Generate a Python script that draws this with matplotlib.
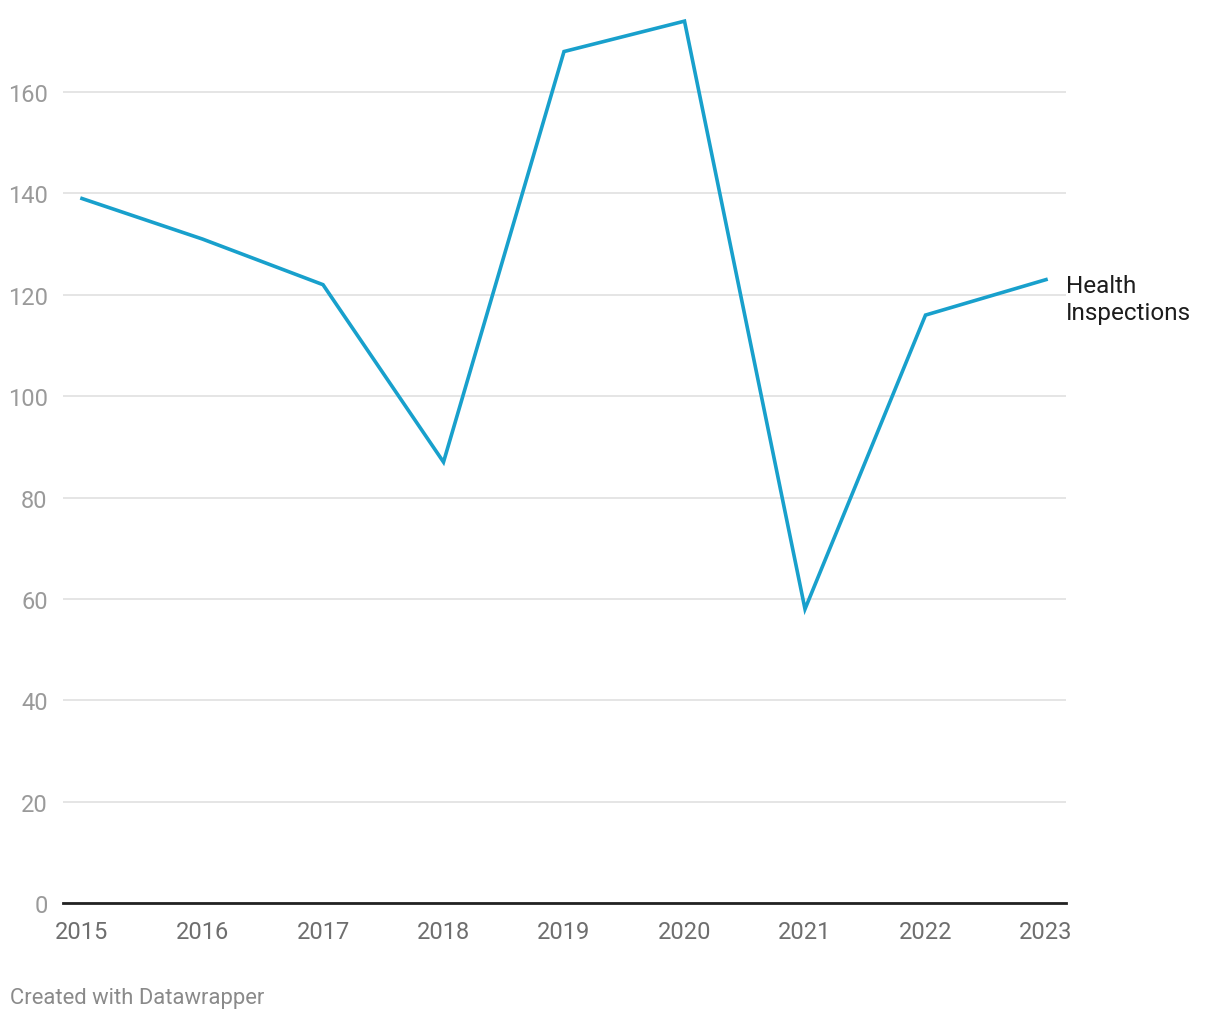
import matplotlib
matplotlib.use("Agg")
import matplotlib.pyplot as plt

years = [2015, 2016, 2017, 2018, 2019, 2020, 2021, 2022, 2023]
inspections = [139, 131, 122, 87, 168, 174, 58, 116, 123]
yticks = [0, 20, 40, 60, 80, 100, 120, 140, 160]
series_label = "Health\nInspections"
credit = "Created with Datawrapper"

plt.rcParams['font.family'] = ['Roboto', 'DejaVu Sans']

fig = plt.figure(figsize=(12.2, 10.2), dpi=100)
ax = fig.add_axes([63/1220, 1 - 904/1020, (1066-63)/1220, (904 - 12)/1020])

ax.plot(years, inspections, color='#18a0cc', lw=2.6, solid_joinstyle='miter', zorder=3, clip_on=False)

ax.set_xlim(2015 - 19/120.5, 2023 + 20/120.5)
ax.set_ylim(0, 176)
ax.set_yticks(yticks)
ax.set_xticks(years)
ax.set_xticklabels([str(y) for y in years])
ax.grid(axis='y', color='#e0e0e0', lw=1.2, zorder=0)
ax.grid(axis='x', visible=False)
for s in ['top', 'right', 'left']:
    ax.spines[s].set_visible(False)
ax.spines['bottom'].set_color('#222222')
ax.spines['bottom'].set_linewidth(2)
ax.spines['bottom'].set_zorder(4)
ax.tick_params(axis='y', length=0, pad=11, labelsize=17, labelcolor='#9a9a9a')
ax.tick_params(axis='x', length=0, pad=12, labelsize=17, labelcolor='#6e6e6e')

ax.annotate(series_label, xy=(years[-1], inspections[-1]), xytext=(20, -19),
            textcoords='offset pixels', ha='left', va='center', fontsize=17.5,
            color='#1d1d1d', linespacing=1.22, annotation_clip=False)

fig.text(10/1220, 1 - 999/1020, credit, ha='left', va='center', fontsize=15.8, color='#8a8a8a')

fig.savefig('out.png', dpi=100, facecolor='white')
